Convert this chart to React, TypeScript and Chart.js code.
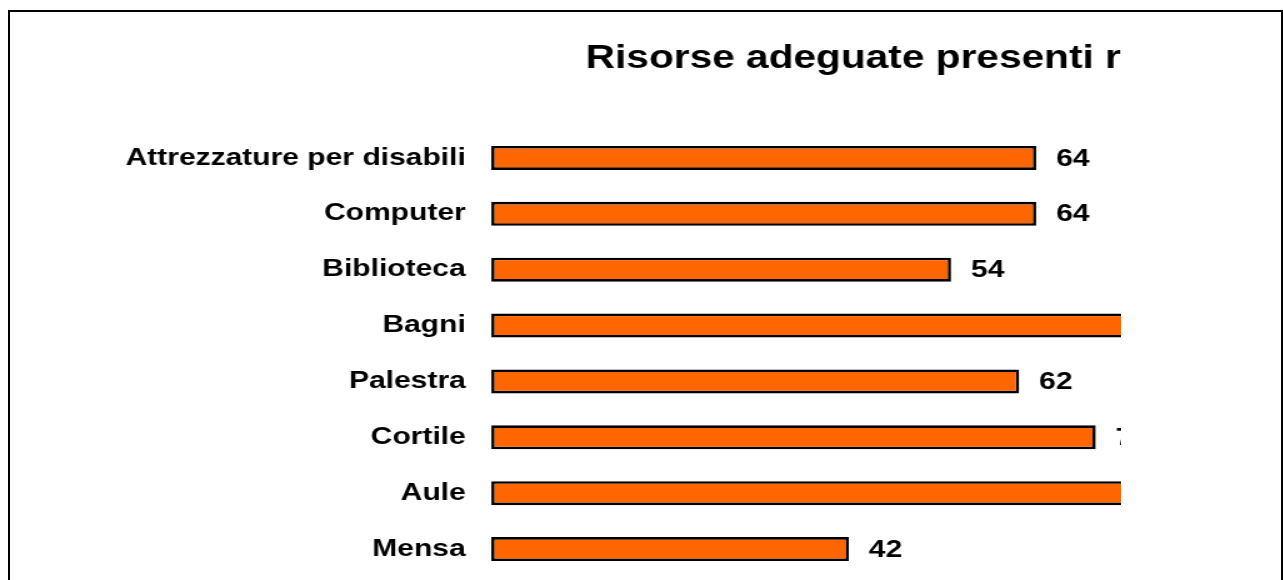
import React, { useEffect, useRef } from "react";
import { Chart, registerables } from "chart.js";

Chart.register(...registerables);

const titleText = "Risorse adeguate presenti rilevate (%)";
const categories = [
  "Attrezzature per disabili",
  "Computer",
  "Biblioteca",
  "Bagni",
  "Palestra",
  "Cortile",
  "Aule",
  "Mensa",
];
const values = [64, 64, 54, 78, 62, 71, 82, 42];
const axisMin = 0;
const axisMax = 154.6;

const FONT = "'Liberation Sans', Arial, Helvetica, sans-serif";
const CANVAS_W = 1458;
const CANVAS_H = 600;

const valueLabelPlugin = {
  id: "valueLabels",
  afterDatasetsDraw(chart: any) {
    const ctx = chart.ctx;
    const meta = chart.getDatasetMeta(0);
    ctx.save();
    ctx.font = `bold 24px ${FONT}`;
    ctx.fillStyle = "#000000";
    ctx.textAlign = "left";
    ctx.textBaseline = "middle";
    meta.data.forEach((el: any, i: number) => {
      ctx.fillText(String(values[i]), el.x + 16, el.y + 1);
    });
    ctx.restore();
  },
};

export default function App() {
  const canvasRef = useRef<HTMLCanvasElement | null>(null);

  useEffect(() => {
    if (!canvasRef.current) return;
    const chart = new Chart(canvasRef.current, {
      type: "bar",
      data: {
        labels: categories,
        datasets: [
          {
            data: values,
            backgroundColor: "#FF6600",
            borderColor: "#000000",
            borderWidth: 2.6,
            borderSkipped: false,
            categoryPercentage: 1,
            barPercentage: 0.43,
          },
        ],
      },
      options: {
        indexAxis: "y",
        animation: false,
        responsive: false,
        devicePixelRatio: 1,
        layout: { padding: { left: 72, top: 0, right: 20, bottom: 35 } },
        plugins: {
          legend: { display: false },
          tooltip: { enabled: false },
          title: {
            display: true,
            text: titleText,
            color: "#000000",
            font: { family: FONT, size: 32.5, weight: "bold" },
            padding: { top: 28, bottom: 51 },
          },
        },
        scales: {
          x: {
            display: false,
            min: axisMin,
            max: axisMax,
          },
          y: {
            grid: { display: false, drawTicks: false },
            border: { display: false },
            ticks: {
              color: "#000000",
              padding: 20.5,
              font: { family: FONT, size: 24, weight: "bold" },
            },
          },
        },
      },
      plugins: [valueLabelPlugin],
    } as any);
    return () => chart.destroy();
  }, []);

  return (
    <div
      style={{
        position: "fixed",
        left: 8,
        top: 10,
        width: 1271,
        height: 640,
        border: "2px solid #000",
        background: "#fff",
      }}
    >
      <div style={{ width: 1111, height: 640, overflow: "hidden" }}>
        <div
          style={{
            width: CANVAS_W,
            height: CANVAS_H,
            transform: "scaleX(1.25)",
            transformOrigin: "0 0",
          }}
        >
          <canvas ref={canvasRef} width={CANVAS_W} height={CANVAS_H} />
        </div>
      </div>
    </div>
  );
}
